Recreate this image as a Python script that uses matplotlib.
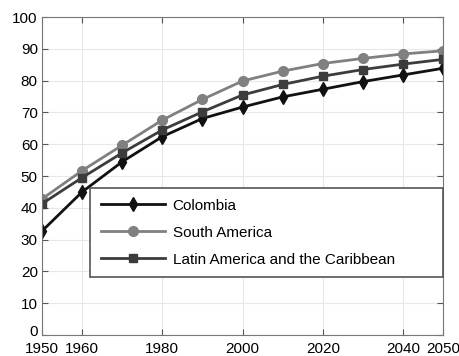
import matplotlib.pyplot as plt
import matplotlib.transforms as mtransforms
import numpy as np

years = [1950, 1960, 1970, 1980, 1990, 2000, 2010, 2020, 2030, 2040, 2050]
colombia = [32.7, 45.0, 54.5, 62.4, 68.1, 71.7, 74.9, 77.3, 79.7, 81.8, 83.9]
south_america = [42.8, 51.7, 59.7, 67.6, 74.1, 79.9, 83.0, 85.4, 87.0, 88.4, 89.4]
latin_america = [41.3, 49.5, 57.3, 64.5, 70.2, 75.5, 78.8, 81.4, 83.5, 85.2, 86.7]
xticks = [1950, 1960, 1980, 2000, 2020, 2040, 2050]

plt.rcParams['font.family'] = ['Liberation Sans', 'DejaVu Sans']

fig = plt.figure(figsize=(4.6, 3.56), dpi=100)
ax = fig.add_axes([0.0913, 0.059, 0.872, 0.893])

ax.plot(years, colombia, color='#111111', lw=2, marker='d', ms=7.5, label='Colombia')
ax.plot(years, south_america, color='#808080', lw=2, marker='o', ms=7, label='South America')
ax.plot(years, latin_america, color='#3c3c3c', lw=2, marker='s', ms=6, label='Latin America and the Caribbean')

ax.set_xlim(1950, 2050)
ax.set_ylim(0, 100)
ax.set_xticks(xticks)
ax.set_yticks(np.arange(0, 101, 10))
ax.grid(True, color='#e8e8e8', lw=0.8)
ax.tick_params(direction='in', top=True, right=True, labelsize=11, color='#555555', length=4)
ax.tick_params(axis='x', pad=5)
ax.tick_params(axis='y', pad=3)
for s in ax.spines.values():
    s.set_color('#777777')

# nudge the "0" label up a little so it clears "1950"
fig.canvas.draw()
zero = ax.get_yticklabels()[0]
zero.set_transform(zero.get_transform() + mtransforms.ScaledTranslation(0, 3 / 72, fig.dpi_scale_trans))

leg = ax.legend(loc='upper left', bbox_to_anchor=(0.12, 0.179, 0.88, 0.283), mode='expand',
                fontsize=11, fancybox=False, framealpha=1, edgecolor='#555555',
                handlelength=4.2, handletextpad=0.5, labelspacing=0.85,
                borderpad=0.7, borderaxespad=0)
leg.get_frame().set_linewidth(1.2)

plt.savefig('out.png', dpi=100)
